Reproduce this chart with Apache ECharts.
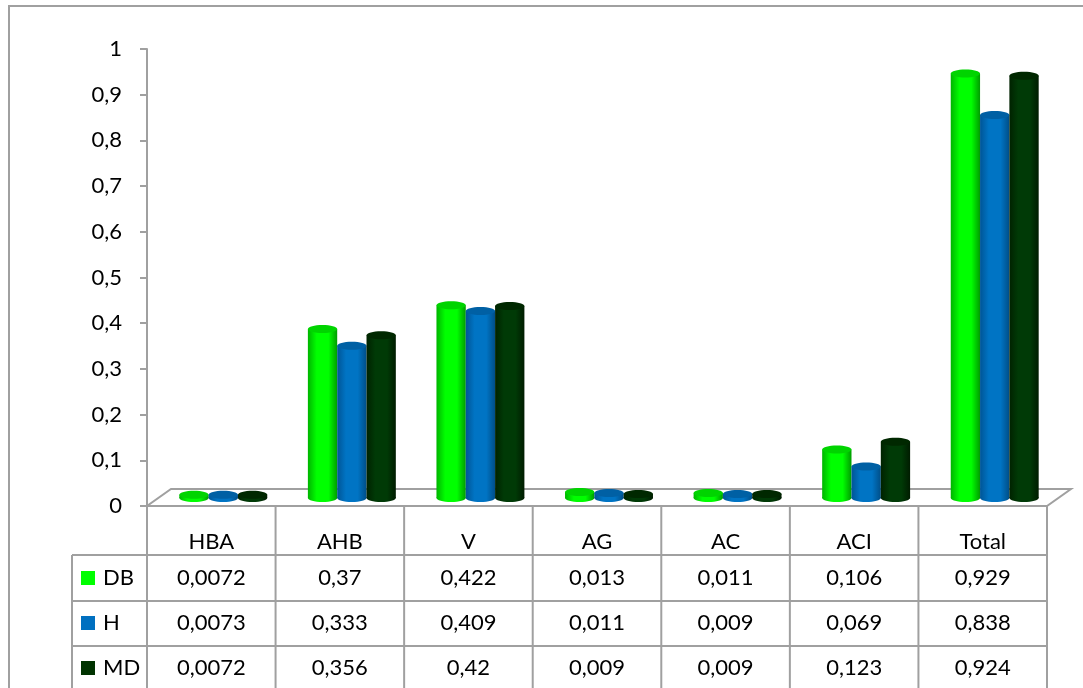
<!DOCTYPE html>
<html>
<head>
<meta charset="utf-8">
<script src="https://cdn.jsdelivr.net/npm/echarts@6/dist/echarts.min.js"></script>
<style>
  html, body { margin: 0; padding: 0; background: #fff; }
  #chart { width: 1083px; height: 688px; }
</style>
</head>
<body>
<div id="chart"></div>
<script>
// Categories and the three measured series
const categories = ['HBA', 'AHB', 'V', 'AG', 'AC', 'ACI', 'Total'];
const seriesNames = ['DB', 'H', 'MD'];
const dbValues = [0.0072, 0.37, 0.422, 0.013, 0.011, 0.106, 0.929];
const hValues  = [0.0073, 0.333, 0.409, 0.011, 0.009, 0.069, 0.838];
const mdValues = [0.0072, 0.356, 0.42, 0.009, 0.009, 0.123, 0.924];
const yTickLabels = ['0', '0,1', '0,2', '0,3', '0,4', '0,5', '0,6', '0,7', '0,8', '0,9', '1'];

const allValues = [dbValues, hValues, mdValues];

// Cylinder shading per series
const palettes = [
  { edgeL: '#00b400', mid: '#00ff00', edgeR: '#009c00', top: '#00d400', key: '#00ff00' },
  { edgeL: '#005596', mid: '#0074c4', edgeR: '#004e88', top: '#0060a4', key: '#0070c0' },
  { edgeL: '#002200', mid: '#003a06', edgeR: '#001c00', top: '#002800', key: '#003300' }
];

const FONT = 'Lato, "Open Sans", sans-serif';
const FS = 22;
const GRAY = '#a0a0a0';

// Plot frame and table layout
const plotLeft = 147, plotRight = 1047, axisY = 506, plotTop = 49;
const depthX = 24, depthY = 17;
const rowLines = [506, 555, 601, 646, 692];
const keyColLeft = 72;
const colW = (plotRight - plotLeft) / categories.length;

function fmt(v) { return String(v).replace('.', ','); }

function cylinder(idx) {
  const p = palettes[idx];
  return function (params, api) {
    const c = api.value(0), v = api.value(1);
    const band = api.size([1, 0])[0];
    const w = band * 0.228;
    const top = api.coord([c, v]);
    const base = api.coord([c, 0]);
    const cx = top[0] + (idx - 1) * w;
    const ry = 4;
    const grad = () => new echarts.graphic.LinearGradient(0, 0, 1, 0, [
      { offset: 0, color: p.edgeL },
      { offset: 0.3, color: p.mid },
      { offset: 0.7, color: p.mid },
      { offset: 1, color: p.edgeR }
    ]);
    return {
      type: 'group',
      children: [
        { type: 'rect', shape: { x: cx - w / 2, y: top[1], width: w, height: Math.max(0, base[1] - top[1]) }, style: { fill: grad() } },
        { type: 'ellipse', shape: { cx: cx, cy: base[1], rx: w / 2, ry: ry }, style: { fill: grad() } },
        { type: 'ellipse', shape: { cx: cx, cy: top[1], rx: w / 2, ry: ry }, style: { fill: p.top } }
      ]
    };
  };
}

function floorItem(params, api) {
  const cs = params.coordSys;
  const fy = cs.y + cs.height;
  return {
    type: 'group',
    children: [
      {
        type: 'polygon',
        shape: { points: [[cs.x, fy], [cs.x + cs.width, fy], [cs.x + cs.width + depthX, fy - depthY], [cs.x + depthX, fy - depthY]] },
        style: { fill: '#fff', stroke: GRAY, lineWidth: 2 }
      },
      { type: 'line', shape: { x1: cs.x - 7, y1: fy, x2: cs.x, y2: fy }, style: { stroke: GRAY, lineWidth: 2 } }
    ]
  };
}

// Data table drawn below the plot
const graphics = [];
graphics.push({ type: 'rect', shape: { x: 9, y: 6, width: 1200, height: 800 }, style: { fill: 'none', stroke: GRAY, lineWidth: 2 }, z: 0 });
// horizontal rules
rowLines.forEach((y, i) => {
  if (i === 0) return;
  graphics.push({ type: 'line', shape: { x1: keyColLeft, y1: y, x2: plotRight, y2: y }, style: { stroke: GRAY, lineWidth: 2 }, z: 5 });
});
// vertical rules
for (let c = 0; c <= categories.length; c++) {
  const x = plotLeft + c * colW;
  graphics.push({ type: 'line', shape: { x1: x, y1: axisY, x2: x, y2: 700 }, style: { stroke: GRAY, lineWidth: 2 }, z: 5 });
}
graphics.push({ type: 'line', shape: { x1: keyColLeft, y1: rowLines[1], x2: keyColLeft, y2: 700 }, style: { stroke: GRAY, lineWidth: 2 }, z: 5 });
// header row
categories.forEach((cat, c) => {
  graphics.push({ type: 'text', x: plotLeft + (c + 0.5) * colW, y: 542, style: { text: cat, fill: '#000', font: FS + 'px ' + FONT, textAlign: 'center', textVerticalAlign: 'middle' }, z: 6 });
});
// series rows
const rowMids = [578, 623, 668];
seriesNames.forEach((name, r) => {
  const ym = rowMids[r];
  graphics.push({ type: 'rect', shape: { x: 81, y: ym - 7, width: 14, height: 14 }, style: { fill: palettes[r].key }, z: 6 });
  graphics.push({ type: 'text', x: 103, y: ym, style: { text: name, fill: '#000', font: FS + 'px ' + FONT, textAlign: 'left', textVerticalAlign: 'middle' }, z: 6 });
  allValues[r].forEach((v, c) => {
    graphics.push({ type: 'text', x: plotLeft + (c + 0.5) * colW, y: ym, style: { text: fmt(v), fill: '#000', font: FS + 'px ' + FONT, textAlign: 'center', textVerticalAlign: 'middle' }, z: 6 });
  });
});

const chart = echarts.init(document.getElementById('chart'), null, { renderer: 'canvas' });
chart.setOption({
  backgroundColor: '#fff',
  animation: false,
  grid: [
    { left: plotLeft, right: 1083 - plotRight, top: plotTop, bottom: 688 - axisY },
    { left: plotLeft + depthX / 2, right: 1083 - plotRight - depthX / 2, top: plotTop - 8, bottom: 688 - axisY + 8 }
  ],
  xAxis: [
    { type: 'category', gridIndex: 0, data: categories, axisLine: { show: false }, axisTick: { show: false }, axisLabel: { show: false } },
    { type: 'category', gridIndex: 1, data: categories, show: false }
  ],
  yAxis: [
    {
      type: 'value', gridIndex: 0, min: 0, max: 1, interval: 0.1,
      axisLine: { show: true, lineStyle: { color: GRAY, width: 2 } },
      axisTick: { show: true, length: 7, lineStyle: { color: GRAY, width: 2 } },
      splitLine: { show: false },
      axisLabel: {
        margin: 25, color: '#000', fontSize: FS, fontFamily: FONT,
        formatter: (v) => yTickLabels[Math.round(v * 10)]
      }
    },
    { type: 'value', gridIndex: 1, min: 0, max: 1, interval: 0.1, show: false }
  ],
  series: [
    { type: 'custom', name: 'floor', xAxisIndex: 0, yAxisIndex: 0, data: [[0, 0]], renderItem: floorItem, z: 1, silent: true },
    ...seriesNames.map((name, i) => ({
      type: 'custom',
      name: name,
      xAxisIndex: 1, yAxisIndex: 1,
      data: allValues[i].map((v, c) => [c, v]),
      renderItem: cylinder(i),
      z: 3
    }))
  ],
  graphic: graphics
});
</script>
</body>
</html>
